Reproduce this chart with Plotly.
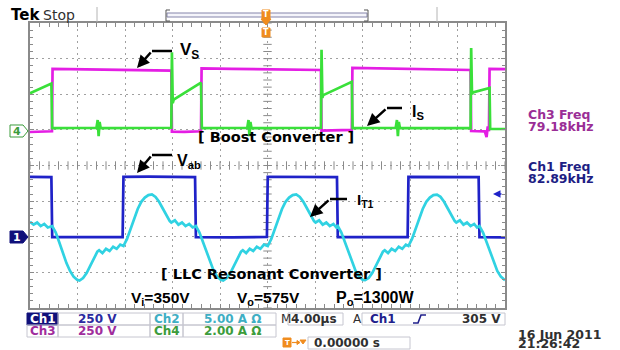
import plotly.graph_objects as go

W, H = 620, 350
def X(px): return px / W
def Y(py): return 1 - py / H

# ---------------- data (time in microseconds) ----------------
# Ch3 : Vs (V), 250 V/div
t_vs = [0, 0.9, 1.85, 1.9, 4, 7, 10, 11.9, 11.95, 13, 14.4, 14.45, 17, 20, 23, 24.5,
        24.55, 26, 27.1, 27.15, 30, 33, 37.1, 37.15, 38.3, 38.45, 38.55, 38.65, 38.7, 40]
v_vs = [-15, -12, -10, 428, 426, 422, 418, 416, -12, -14, -10, 432, 428, 424, 421, 420,
        -5, -3, 0, 435, 430, 426, 420, -8, -10, -50, 25, -10, 428, 426]

# Ch4 : Is (A), 2 A/div
t_is = [0, 1.8, 1.87, 5.6, 5.7, 5.78, 5.86, 5.95, 11.9, 11.95, 12.02, 12.1, 14.4, 14.47,
        18.3, 18.4, 18.48, 18.56, 18.65, 24.5, 24.55, 24.62, 24.7, 27.1, 27.17,
        30.8, 30.9, 30.98, 31.06, 31.15, 37.1, 37.15, 37.22, 37.3, 38.7, 38.75, 40]
i_is = [2.05, 2.6, 0.1, 0.12, 0.55, -0.35, 0.45, 0.1, 0.12, 4.35, 1.5, 1.7, 2.65, 0.1,
        0.12, 0.55, -0.35, 0.45, 0.1, 0.12, 4.5, 1.8, 1.95, 2.7, 0.1,
        0.12, 0.55, -0.35, 0.45, 0.1, 0.1, 4.6, 2.0, 2.1, 2.35, 0.05, 0.05]

# Ch1 : Vab (V), 250 V/div
t_vab = [0, 1.8, 1.87, 4, 7.8, 7.87, 10, 13.9, 13.97, 17, 19.95, 20.02, 23, 25.85,
         25.92, 29, 31.8, 31.87, 35, 37.78, 37.85, 40]
v_vab = [420, 418, -3, -4, -2, 420, 422, 419, -3, -4, -2, 421, 420, 418,
         -3, -4, -2, 420, 421, 418, -3, -4]

# Ch2 : IT1 (A), 5 A/div
t_it = [0, 0.3, 0.6, 0.9, 1.2, 1.5, 1.87,
        2.17, 2.47, 2.77, 3.07, 3.37, 3.67, 3.97, 4.17, 4.47, 4.77, 5.07, 5.37, 5.67, 5.82,
        6.1, 6.4, 6.7, 7.0, 7.3, 7.6, 7.87,
        8.17, 8.47, 8.77, 9.07, 9.37, 9.67, 9.97, 10.27, 10.57, 10.87, 11.17, 11.47, 11.77, 11.9,
        12.2, 12.5, 12.8, 13.1, 13.4, 13.7, 13.97,
        14.27, 14.57, 14.87, 15.17, 15.47, 15.77, 16.07, 16.27, 16.57, 16.87, 17.17, 17.47, 17.77, 17.92,
        18.2, 18.5, 18.8, 19.1, 19.4, 19.7, 20.02,
        20.32, 20.62, 20.92, 21.22, 21.52, 21.82, 22.12, 22.42, 22.72, 23.02, 23.32, 23.62, 23.92, 24.05,
        24.35, 24.65, 24.95, 25.25, 25.55, 25.8, 25.92,
        26.22, 26.52, 26.82, 27.12, 27.42, 27.72, 28.02, 28.22, 28.52, 28.82, 29.12, 29.42, 29.72, 29.87,
        30.15, 30.45, 30.75, 31.05, 31.35, 31.65, 31.87,
        32.17, 32.47, 32.77, 33.07, 33.37, 33.67, 33.97, 34.27, 34.57, 34.87, 35.17, 35.47, 35.77, 35.9,
        36.2, 36.5, 36.8, 37.1, 37.4, 37.65, 37.85,
        38.15, 38.45, 38.75, 39.05, 39.35, 39.65, 40.0]
i_it = [2.1, 1.7, 2.0, 1.5, 1.8, 1.3, 1.5,
        0.6, -0.8, -2.3, -3.7, -4.8, -5.6, -6.05, -6.15, -5.8, -5.1, -4.1, -3.0, -2.1, -1.9,
        -2.3, -1.7, -2.0, -1.4, -1.7, -1.1, -1.3,
        -0.3, 1.1, 2.6, 3.9, 4.9, 5.5, 5.85, 5.95, 5.6, 4.9, 4.0, 3.0, 2.2, 2.0,
        2.3, 1.7, 2.0, 1.5, 1.8, 1.3, 1.5,
        0.6, -0.8, -2.3, -3.7, -4.8, -5.6, -6.05, -6.15, -5.8, -5.1, -4.1, -3.0, -2.1, -1.9,
        -2.3, -1.7, -2.0, -1.4, -1.7, -1.1, -1.3,
        -0.3, 1.1, 2.6, 3.9, 4.9, 5.5, 5.85, 5.95, 5.6, 4.9, 4.0, 3.0, 2.2, 2.0,
        2.3, 1.7, 2.0, 1.5, 1.8, 1.3, 1.5,
        0.6, -0.8, -2.3, -3.7, -4.8, -5.6, -6.05, -6.1, -5.8, -5.1, -4.1, -3.0, -2.1, -1.9,
        -2.3, -1.7, -2.0, -1.4, -1.7, -1.1, -1.3,
        -0.3, 1.1, 2.6, 3.9, 4.9, 5.5, 5.85, 5.9, 5.6, 4.9, 4.0, 3.0, 2.2, 2.0,
        2.3, 1.7, 2.0, 1.5, 1.8, 1.3, 1.5,
        0.6, -0.8, -2.3, -3.7, -4.8, -5.6, -6.1]

# ---------------- colours ----------------
C_CH1 = "#1f22c8"
C_CH2 = "#30d2e2"
C_CH3 = "#e41ee4"
C_CH4 = "#3ae03a"
GRID = "#a0a0a0"
BORDER = "#8a8a8a"

fig = go.Figure()

def trace(t, v, color, yaxis, width=2.7):
    fig.add_trace(go.Scatter(x=t, y=v, mode="lines", yaxis=yaxis,
                             line=dict(color=color, width=width),
                             hoverinfo="skip", showlegend=False))

trace(t_vs, v_vs, C_CH3, "y3")
trace(t_is, i_is, C_CH4, "y4")
trace(t_it, i_it, C_CH2, "y5")
trace(t_vab, v_vab, C_CH1, "y2")

# centre-cross ticks of the graticule
cx = [i * 0.8 for i in range(51)]
fig.add_trace(go.Scatter(x=cx, y=[0] * len(cx), mode="markers", yaxis="y",
                         marker=dict(symbol="line-ns", size=6, line=dict(width=1, color=BORDER)),
                         hoverinfo="skip", showlegend=False))
cy = [-4 + i * 0.2 for i in range(41)]
fig.add_trace(go.Scatter(x=[20] * len(cy), y=cy, mode="markers", yaxis="y",
                         marker=dict(symbol="line-ew", size=6, line=dict(width=1, color=BORDER)),
                         hoverinfo="skip", showlegend=False))

shapes = []
ann = []

def line(x0, y0, x1, y1, color="black", w=1):
    shapes.append(dict(type="line", xref="paper", yref="paper", x0=X(x0), y0=Y(y0),
                       x1=X(x1), y1=Y(y1), line=dict(color=color, width=w)))

def rect(x0, y0, x1, y1, color="#c6c6d0", fill="rgba(0,0,0,0)", w=1):
    shapes.append(dict(type="rect", xref="paper", yref="paper", x0=X(x0), y0=Y(y0),
                       x1=X(x1), y1=Y(y1), line=dict(color=color, width=w), fillcolor=fill))

def path(pts, color, fill=None, w=1, close=False):
    d = "M " + " L ".join(f"{X(a):.5f},{Y(b):.5f}" for a, b in pts)
    if close:
        d += " Z"
    s = dict(type="path", xref="paper", yref="paper", path=d, line=dict(color=color, width=w))
    if fill:
        s["fillcolor"] = fill
    shapes.append(s)

def text(x, y, s, size=12, color="black", family="DejaVu Sans", xanchor="left", bold=False):
    if bold:
        s = f"<b>{s}</b>"
    ann.append(dict(x=X(x), y=Y(y), xref="paper", yref="paper", text=s, showarrow=False,
                    xanchor=xanchor, yanchor="middle", font=dict(size=size, color=color, family=family)))

def arrow(hx, hy, tx, ty, color="black", w=2.5, head=2, size=1.0):
    ann.append(dict(x=X(hx), y=Y(hy), xref="paper", yref="paper", text="", showarrow=True,
                    ax=tx - hx, ay=ty - hy, arrowhead=head, arrowsize=size, arrowwidth=w,
                    arrowcolor=color))

# ---------------- top status bar ----------------
text(9, 15, "Tek", 15, "black", bold=True)
text(41, 15, "Stop", 14, "#303030")
line(97, 7, 97, 22, "#b4b4b4", 1)
line(437, 7, 437, 22, "#b4b4b4", 1)
rect(167, 13, 367, 17, "#8484aa", "#f4f4fa", 1)
path([(170, 10), (166, 10), (166, 21), (170, 21)], "#555555", w=1)
path([(364, 10), (368, 10), (368, 21), (364, 21)], "#555555", w=1)
rect(262, 10, 270, 19, "#f08c1e", "#f08c1e", 1)
path([(261, 19), (271, 19), (266, 25)], "#f08c1e", "#f08c1e", 1, close=True)
rect(262, 28, 270, 37, "#f08c1e", "#f08c1e", 1)
text(266, 14.5, "T", 8, "white", xanchor="center", bold=True)
text(266, 32.5, "T", 8, "white", xanchor="center", bold=True)

# ---------------- channel markers ----------------
path([(10, 125), (23, 125), (28, 131), (23, 137), (10, 137)], "#3c9c3c", "white", 1, close=True)
text(17, 131, "4", 11, "#3c9c3c", xanchor="center", bold=True)
path([(10, 231), (23, 231), (28, 237), (23, 243), (10, 243)], "#10107a", "#10107a", 1, close=True)
text(17, 237, "1", 11, "white", xanchor="center", bold=True)
arrow(493, 194, 503, 194, C_CH1, 1.5, 2, 1.0)

# ---------------- right side readouts ----------------
text(526, 115, "Ch3 Freq", 12.5, "#9a2e96", bold=True)
text(526, 126, "79.18kHz", 12.5, "#9a2e96", bold=True)
text(526, 167, "Ch1 Freq", 12.5, "#1e1e84", bold=True)
text(526, 178, "82.89kHz", 12.5, "#1e1e84", bold=True)

# ---------------- waveform annotations ----------------
AF = "Liberation Sans"
BF = "DejaVu Sans"
line(152, 51, 172, 51, "black", 2.5)
arrow(137, 68, 152, 51)
text(178, 51, "V<sub>S</sub>", 17, "black", AF, bold=True)
line(152, 155, 172, 155, "black", 2.5)
arrow(137, 173, 152, 155)
text(175, 161, "V<sub>ab</sub>", 16, "black", AF, bold=True)
line(387, 108, 402, 108, "black", 2.5)
arrow(367, 126, 387, 108)
text(410, 112, "I<sub>S</sub>", 16, "black", AF, bold=True)
line(330, 199, 347, 199, "black", 2.5)
arrow(310, 217, 330, 199)
text(355, 200, "I<sub>T1</sub>", 15, "black", AF, bold=True)

text(196, 137, "[ Boost Converter ]", 14.5, "black", BF, bold=True)
text(159, 274, "[ LLC Resonant Converter ]", 14.5, "black", BF, bold=True)
text(129, 298, "V<sub>i</sub>=350V", 15.5, "black", AF, bold=True)
text(235, 298, "V<sub>o</sub>=575V", 15.5, "black", AF, bold=True)
text(334, 298, "P<sub>o</sub>=1300W", 16, "black", AF, bold=True)

# ---------------- bottom readout ----------------
RF = "DejaVu Sans"
RS = 12
rect(27, 313, 58, 325, "#10107a", "#10107a")
text(42.5, 319, "Ch1", RS, "white", RF, "center", bold=True)
rect(58, 313, 150, 325)
text(98, 319, "250 V", RS, "#2a2aa0", RF, "center", bold=True)
rect(150, 313, 183, 325)
text(166.5, 319, "Ch2", RS, "#3eaec4", RF, "center", bold=True)
rect(183, 313, 276, 325)
text(232, 319, "5.00 A Ω", RS, "#3eaec4", RF, "center", bold=True)
text(279, 319, "M", RS, "#303030", RF)
rect(288, 313, 343, 325)
text(289, 319, "4.00µs", RS, "#303030", RF, bold=True)
text(351, 319, "A", RS, "#303030", RF)
rect(362, 313, 505, 325)
text(368, 319, "Ch1", RS, "#20208c", RF, bold=True)
path([(413, 323), (418, 323), (421, 315), (426, 315)], "#20208c", w=1.6)
text(503, 319, "305 V", RS, "#303030", RF, "right", bold=True)

rect(27, 325, 58, 337)
text(42.5, 331, "Ch3", RS, "#a02c9c", RF, "center", bold=True)
rect(58, 325, 150, 337)
text(98, 331, "250 V", RS, "#a02c9c", RF, "center", bold=True)
rect(150, 325, 183, 337)
text(166.5, 331, "Ch4", RS, "#3c9c3c", RF, "center", bold=True)
rect(183, 325, 276, 337)
text(232, 331, "2.00 A Ω", RS, "#3c9c3c", RF, "center", bold=True)

rect(283, 338, 291, 347, "#f08c1e", "#f08c1e")
text(287, 342.5, "T", 7, "white", RF, "center", bold=True)
line(292, 342.5, 298, 342.5, "#f08c1e", 1.2)
path([(297, 340.5), (300, 342.5), (297, 344.5)], "#f08c1e", "#f08c1e", 1, close=True)
path([(300, 340), (306, 340), (303, 344)], "#f08c1e", "#f08c1e", 1, close=True)
rect(308, 337, 410, 349)
text(312, 343, "0.00000 s", RS, "#303030", RF, bold=True)

text(516, 334, "16 Jun 2011", 12.5, "#303030", RF, bold=True)
text(516, 343.5, "21:26:42", 12.5, "#303030", RF, bold=True)

# ---------------- axes ----------------
ax_common = dict(showgrid=True, gridcolor=GRID, griddash="2px,4px", gridwidth=1,
                 zeroline=False, showline=True, linecolor=BORDER, linewidth=2,
                 mirror="allticks", ticks="inside", ticklen=4, tickcolor=BORDER,
                 showticklabels=False, fixedrange=True)

fig.update_layout(
    width=W, height=H, autosize=False,
    margin=dict(l=0, r=0, t=0, b=0),
    paper_bgcolor="white", plot_bgcolor="white",
    showlegend=False,
    xaxis=dict(domain=[X(30), X(505)], range=[0, 40], dtick=4, tick0=0,
               minor=dict(dtick=0.8, ticklen=3, ticks="inside", tickcolor=BORDER, showgrid=False),
               **ax_common),
    yaxis=dict(domain=[Y(308), Y(23)], range=[-4, 4], dtick=1, tick0=0,
               minor=dict(dtick=0.2, ticklen=3, ticks="inside", tickcolor=BORDER, showgrid=False),
               **ax_common),
    yaxis2=dict(overlaying="y", range=[-500, 1500], visible=False, fixedrange=True),
    yaxis3=dict(overlaying="y", range=[-1250, 750], visible=False, fixedrange=True),
    yaxis4=dict(overlaying="y", range=[-10, 6], visible=False, fixedrange=True),
    yaxis5=dict(overlaying="y", range=[-10, 30], visible=False, fixedrange=True),
    shapes=shapes,
    annotations=ann,
)

fig.write_html("out.html", config={"displayModeBar": False},
               post_script="document.body.style.margin='0px';document.body.style.overflow='hidden';")
